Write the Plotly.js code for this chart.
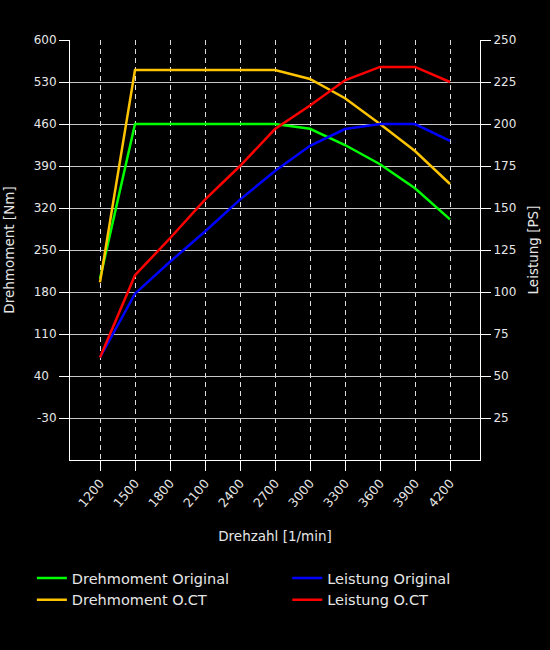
<!DOCTYPE html>
<html>
<head>
<meta charset="utf-8">
<script src="https://cdn.plot.ly/plotly-3.0.1.min.js"></script>
<style>
  body { margin: 0; background: #000; }
  #chart { width: 550px; height: 650px; }
</style>
</head>
<body>
<div id="chart"></div>
<script>
// Drehzahl in 1/min
var rpm = [1200, 1500, 1800, 2100, 2400, 2700, 3000, 3300, 3600, 3900, 4200]

// Drehmoment [Nm]
var torqueOriginal = [202, 460, 460, 460, 460, 460, 452, 425, 393, 353, 301]
var torqueOCT = [196, 550, 550, 550, 550, 550, 535, 503, 460, 415, 360]

// Leistung [PS]
var powerOriginal = [61, 99, 118, 136, 155, 172, 187, 197, 200, 200, 190]
var powerOCT = [61, 110, 132, 155, 175, 197, 211, 226, 234, 234, 225]

var torqueTicks = [-30, 40, 110, 180, 250, 320, 390, 460, 530, 600]
var powerTicks = [25, 50, 75, 100, 125, 150, 175, 200, 225, 250]

var fontFamily = 'DejaVu Sans, Verdana, sans-serif'
var textColor = '#e6e6e6'

// labels are padded to 3 characters, like in the original (figure space)
const padLabel = v => {
  let s = String(v)
  while (s.length < 3) s += '\u2007'
  return s
}

const lineTrace = (x, y, name, color, axis, legend) => {
  return {
    x: x,
    y: y,
    name: name,
    yaxis: axis,
    legend: legend,
    type: 'scatter',
    mode: 'lines',
    line: { color: color, width: 2.5 },
    hoverinfo: 'x+y+name'
  }
}

var data = [
  lineTrace(rpm, torqueOriginal, 'Drehmoment Original', '#00ff00', 'y', 'legend'),
  lineTrace(rpm, torqueOCT, 'Drehmoment O.CT', '#ffc400', 'y', 'legend'),
  lineTrace(rpm, powerOriginal, 'Leistung Original', '#0000ff', 'y2', 'legend2'),
  lineTrace(rpm, powerOCT, 'Leistung O.CT', '#ff0000', 'y2', 'legend2')
]

var legendBase = {
  orientation: 'v',
  xanchor: 'left',
  y: -0.243,
  yanchor: 'top',
  font: { family: fontFamily, size: 14.5, color: textColor },
  bgcolor: 'rgba(0,0,0,0)',
  tracegroupgap: 0
}

var layout = {
  width: 550,
  height: 650,
  paper_bgcolor: '#000',
  plot_bgcolor: '#000',
  font: { family: fontFamily, size: 12, color: textColor },
  margin: { l: 70, r: 70, t: 40, b: 190 },
  showlegend: true,
  xaxis: {
    range: [942.857, 4457.143],
    tickvals: rpm,
    tickangle: -50,
    tickfont: { size: 12.5 },
    ticks: 'outside',
    ticklen: 10,
    tickcolor: '#fff',
    showline: true,
    linecolor: '#fff',
    linewidth: 1,
    showgrid: true,
    gridcolor: '#ddd',
    gridwidth: 1,
    griddash: '5px,4px',
    zeroline: false,
    title: { text: 'Drehzahl [1/min]', standoff: 22, font: { size: 13.5, color: textColor } }
  },
  yaxis: {
    range: [-100, 600],
    tickvals: torqueTicks,
    ticktext: torqueTicks.map(padLabel),
    ticks: 'outside',
    ticklen: 10,
    tickcolor: '#fff',
    showline: true,
    linecolor: '#fff',
    linewidth: 1,
    showgrid: true,
    gridcolor: '#c8c8c8',
    gridwidth: 1,
    zeroline: false,
    title: { text: 'Drehmoment [Nm]', standoff: 15, font: { size: 13.5, color: textColor } }
  },
  yaxis2: {
    range: [0, 250],
    tickvals: powerTicks,
    overlaying: 'y',
    side: 'right',
    ticks: 'outside',
    ticklen: 10,
    tickcolor: '#fff',
    showline: true,
    linecolor: '#fff',
    linewidth: 1,
    showgrid: false,
    zeroline: false,
    title: { text: 'Leistung [PS]', standoff: 13, font: { size: 13.5, color: textColor } }
  },
  legend: Object.assign({}, legendBase, { x: -0.093 }),
  legend2: Object.assign({}, legendBase, { x: 0.53 })
}

Plotly.newPlot('chart', data, layout, { displayModeBar: false, staticPlot: true })
</script>
</body>
</html>
